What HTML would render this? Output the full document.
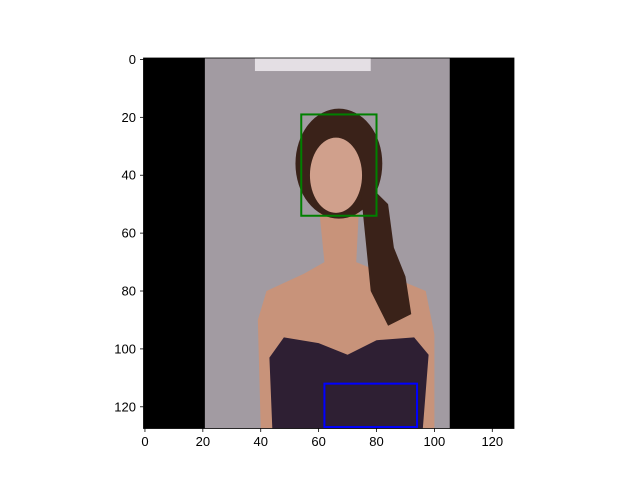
<!DOCTYPE html>
<html><head><meta charset="utf-8"><style>
html,body{margin:0;padding:0;background:#fff;}
svg{display:block;font-family:"Liberation Sans","DejaVu Sans",sans-serif;}
</style></head><body>
<svg id="chart" width="640" height="480" viewBox="0 0 640 480">
<defs><clipPath id="imgclip"><rect x="143.5" y="58" width="370.5" height="370.5"/></clipPath></defs>
<g id="img" clip-path="url(#imgclip)"></g>
<g id="boxes"></g>
<g id="axes"></g>
</svg>
<script>
const xTicks=[0,20,40,60,80,100,120];
const yTicks=[0,20,40,60,80,100,120];
const boxX0=[54,62];
const boxY0=[19,112];
const boxX1=[80,94];
const boxY1=[54,127];
const boxNames=['face-box','body-box'];
const boxColors=['#008000','#0000ff'];
const NS='http://www.w3.org/2000/svg';
const L=143.5,T=58,S=370.5/128;
function xs(v){return L+(v+0.5)*S;}
function ys(v){return T+(v+0.5)*S;}
function mk(tag,attrs,parent){const e=document.createElementNS(NS,tag);for(const k in attrs)e.setAttribute(k,attrs[k]);parent.appendChild(e);return e;}
const img=document.getElementById('img');
// photo approximation
let e;
e=mk('rect',{x:xs(-0.5),y:ys(-0.5),width:128*S,height:128*S,fill:'#000'},img);


e=mk('rect',{x:xs(20.7),y:ys(-0.5),width:84.6*S,height:128*S,fill:'#a29ba2'},img);


e=mk('rect',{x:xs(38),y:ys(-0.5),width:40*S,height:4.5*S,fill:'#e4dfe4'},img);


function P(pts){return pts.map((p,i)=>(i?'L':'M')+xs(p[0])+','+ys(p[1])).join(' ')+'Z';}
e=mk('path',{d:P([[40,127.5],[39,90],[42,80],[55,74],[62,70],[60,50],[74,50],[73,70],[85,75],[97,80],[100,95],[100,127.5]]),fill:'#c8937a'},img);


e=mk('ellipse',{cx:xs(67),cy:ys(36),rx:15*S,ry:19*S,fill:'#3a2219'},img);


e=mk('path',{d:P([[74,40],[84,50],[86,65],[90,75],[92,88],[84,92],[78,80],[76,60]]),fill:'#3a2219'},img);


e=mk('ellipse',{cx:xs(66),cy:ys(40),rx:9*S,ry:13*S,fill:'#d0a08c'},img);


e=mk('path',{d:P([[44,127.5],[43,103],[48,96],[60,98],[70,102],[80,97],[93,96],[98,102],[96,127.5]]),fill:'#2e1f33'},img);


// boxes
const bg=document.getElementById('boxes');
for(let i=0;i<boxX0.length;i++){
  const r=mk('rect',{x:xs(boxX0[i]),y:ys(boxY0[i]),width:(boxX1[i]-boxX0[i])*S,height:(boxY1[i]-boxY0[i])*S,fill:'none',stroke:boxColors[i],'stroke-width':2},bg);
  
  
}
// axes
const ax=document.getElementById('axes');
e=mk('rect',{x:L,y:T,width:370.5,height:370.5,fill:'none',stroke:'#000','stroke-width':0.8},ax);


xTicks.forEach(v=>{
  const x=xs(v);
  const t=mk('line',{x1:x,x2:x,y1:428.5,y2:432,stroke:'#000','stroke-width':0.8},ax);
  
  
  const s=mk('text',{x:x,y:446,'font-size':13,'text-anchor':'middle'},ax);
  s.textContent=v;
  
  
});
yTicks.forEach(v=>{
  const y=ys(v);
  const t=mk('line',{x1:140,x2:143.5,y1:y,y2:y,stroke:'#000','stroke-width':0.8},ax);
  
  
  const s=mk('text',{x:136,y:y+4.5,'font-size':13,'text-anchor':'end'},ax);
  s.textContent=v;
  
  
});
</script>
</body></html>
